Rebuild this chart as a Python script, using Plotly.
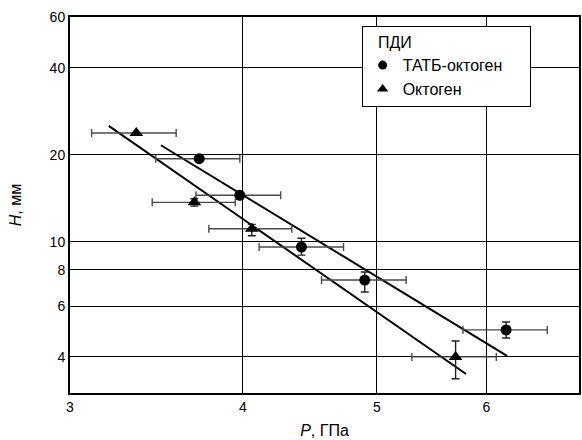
import plotly.graph_objects as go

# TATB-octogen (circles)
tatb_p = [3.72, 3.98, 4.41, 4.90, 6.20]
tatb_h = [19.4, 14.5, 9.6, 7.38, 4.96]
tatb_p_lo = [3.46, 3.70, 4.11, 4.56, 5.77]
tatb_p_hi = [3.98, 4.26, 4.73, 5.25, 6.64]
tatb_h_lo = [19.4, 14.5, 9.0, 6.71, 4.65]
tatb_h_hi = [19.4, 14.5, 10.3, 7.87, 5.28]

# Octogen (triangles)
okt_p = [3.35, 3.69, 4.06, 5.70]
okt_h = [23.8, 13.7, 11.1, 4.0]
okt_p_lo = [3.11, 3.44, 3.78, 5.30]
okt_p_hi = [3.58, 3.95, 4.34, 6.10]
okt_h_lo = [23.8, 13.3, 10.5, 3.36]
okt_h_hi = [23.8, 14.1, 11.5, 4.54]

# Fit lines (power law, straight in log-log)
fit_tatb_p = [3.49, 6.21]
fit_tatb_h = [21.6, 4.03]
fit_okt_p = [3.20, 5.80]
fit_okt_h = [25.2, 3.49]

x_ticks = [3, 4, 5, 6, 7]
y_ticks = [4, 6, 8, 10, 20, 40, 60]

def err(v, lo, hi):
    plus = [h - x for x, h in zip(v, hi)]
    minus = [x - l for x, l in zip(v, lo)]
    return plus, minus

fig = go.Figure()

fig.add_trace(go.Scatter(x=fit_tatb_p, y=fit_tatb_h, mode="lines",
                         line=dict(color="black", width=2), showlegend=False, hoverinfo="skip"))
fig.add_trace(go.Scatter(x=fit_okt_p, y=fit_okt_h, mode="lines",
                         line=dict(color="black", width=2), showlegend=False, hoverinfo="skip"))

px_, mx_ = err(tatb_p, tatb_p_lo, tatb_p_hi)
py_, my_ = err(tatb_h, tatb_h_lo, tatb_h_hi)
fig.add_trace(go.Scatter(
    x=tatb_p, y=tatb_h, mode="markers", name="ТАТБ-октоген", showlegend=False,
    marker=dict(symbol="circle", size=11, color="black"),
    error_x=dict(type="data", symmetric=False, array=px_, arrayminus=mx_,
                 color="#4a4a4a", thickness=1.4, width=4),
    error_y=dict(type="data", symmetric=False, array=py_, arrayminus=my_,
                 color="#222222", thickness=1.4, width=4),
))

px2, mx2 = err(okt_p, okt_p_lo, okt_p_hi)
py2, my2 = err(okt_h, okt_h_lo, okt_h_hi)
fig.add_trace(go.Scatter(
    x=okt_p, y=okt_h, mode="markers", name="Октоген", showlegend=False,
    marker=dict(symbol="triangle-up", size=12, color="black"),
    error_x=dict(type="data", symmetric=False, array=px2, arrayminus=mx2,
                 color="#4a4a4a", thickness=1.4, width=4),
    error_y=dict(type="data", symmetric=False, array=py2, arrayminus=my2,
                 color="#222222", thickness=1.4, width=4),
))

# legend-only entries with smaller symbols
fig.add_trace(go.Scatter(x=[None], y=[None], mode="markers", name="ТАТБ-октоген\u00a0\u00a0\u00a0\u00a0\u00a0",
                         marker=dict(symbol="circle", size=9, color="black")))
fig.add_trace(go.Scatter(x=[None], y=[None], mode="markers", name="Октоген",
                         marker=dict(symbol="triangle-up", size=10, color="black")))

font = "Liberation Sans, Arial, sans-serif"
fig.update_layout(
    width=582, height=440,
    margin=dict(l=70, r=1, t=17, b=47),
    paper_bgcolor="white", plot_bgcolor="white",
    font=dict(family=font, size=14, color="black"),
    legend=dict(x=0.573, y=0.975, xanchor="left", yanchor="top",
                bordercolor="black", borderwidth=1, bgcolor="white",
                font=dict(size=16), title=dict(text="\u00a0\u00a0\u00a0ПДИ", font=dict(size=16)),
                tracegroupgap=0, itemwidth=30),
)
fig.update_xaxes(
    type="log", range=[0.47712, 0.845098],
    tickvals=x_ticks, ticktext=[str(v) for v in x_ticks],
    ticks="inside", ticklen=8, tickcolor="black", tickwidth=1,
    showline=True, linecolor="black", linewidth=2, mirror="ticks",
    showgrid=True, gridcolor="black", gridwidth=1,
    zeroline=False,
    title=dict(text="<i>P</i>, ГПа", font=dict(size=16), standoff=11),
    tickfont=dict(size=14),
)
fig.update_yaxes(
    type="log", range=[0.47712, 1.778151],
    tickvals=y_ticks, ticktext=[str(v) for v in y_ticks],
    ticks="inside", ticklen=10, tickcolor="black", tickwidth=1,
    showline=True, linecolor="black", linewidth=2, mirror="ticks",
    showgrid=True, gridcolor="black", gridwidth=1,
    zeroline=False,
    title=dict(text="<i>H</i>, мм", font=dict(size=16), standoff=24),
    tickfont=dict(size=14),
)

fig.write_html("out.html")
